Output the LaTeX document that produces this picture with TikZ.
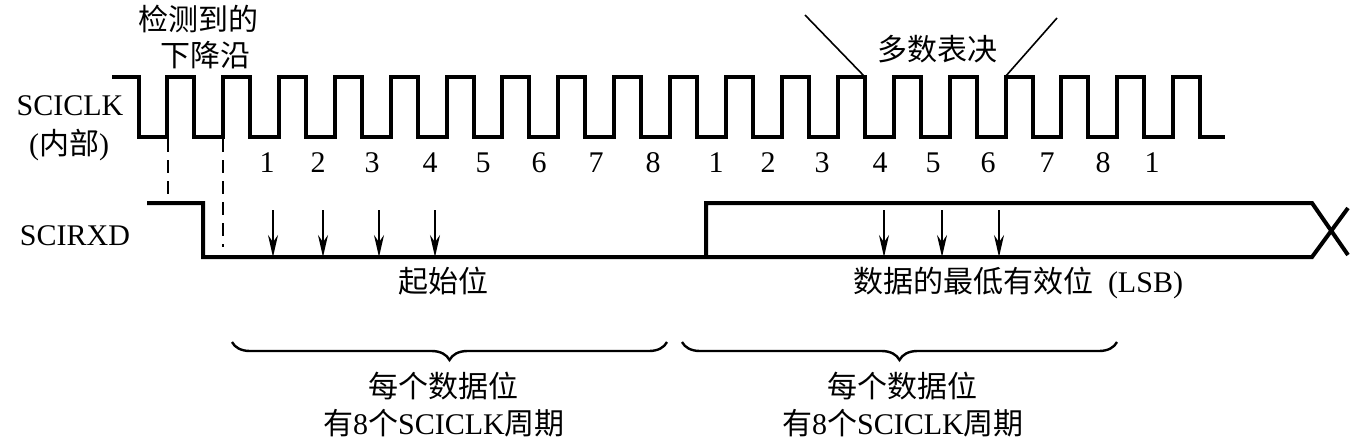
\documentclass[tikz,border=0pt]{standalone}
\usepackage{fontspec}
\setmainfont{Liberation Serif}
\newfontfamily\cjk{Noto Sans CJK SC}
\usetikzlibrary{arrows.meta,decorations.pathreplacing}
\begin{document}
\begin{tikzpicture}[x=1pt,y=-1pt,
  lbl/.style={inner sep=0pt,anchor=base,font=\fontsize{30pt}{36pt}\selectfont},
  sig/.style={line width=4pt,line join=miter},
  dsh/.style={line width=2.5pt,dash pattern=on 13pt off 8pt},
  samp/.style={line width=1.8pt,-{Stealth[length=22pt,width=10pt]}},
  thin/.style={line width=1.6pt},
  brc/.style={line width=2.4pt,decorate,decoration={brace,mirror,amplitude=18pt}}]
\useasboundingbox (0,0) rectangle (1360,440);

% labels
\node[lbl] (det1) at (198,30) {\cjk 检测到的};
\node[lbl] (det2) at (205,66) {\cjk 下降沿};
\node[lbl] (clk1) at (70,115) {SCICLK};
\node[lbl] (clk2) at (69,154) {({\cjk 内部})};
\node[lbl] (rxd) at (75,245) {SCIRXD};
\node[lbl] (maj) at (937,60) {\cjk 多数表决};
\node[lbl] (start) at (443,292) {\cjk 起始位};
\node[lbl] (lsb) at (1018,292) {{\cjk 数据的最低有效位}\hspace{0.5em}(LSB)};
\node[lbl] (e1a) at (443,397) {\cjk 每个数据位};
\node[lbl] (e1b) at (444,434) {{\cjk 有}8{\cjk 个}SCICLK{\cjk 周期}};
\node[lbl] (e2a) at (902,397) {\cjk 每个数据位};
\node[lbl] (e2b) at (903,434) {{\cjk 有}8{\cjk 个}SCICLK{\cjk 周期}};

% clock
\draw[sig] (112,77) -- (139,77) -- (139,137)
  \foreach \k in {0,...,18} { -- ({167+55.9*\k},137) -- ({167+55.9*\k},77) -- ({194+55.9*\k},77) -- ({194+55.9*\k},137) }
  -- (1225,137);

% clock numbers
\foreach \x/\t [count=\i] in {267/1,318/2,372/3,430/4,483/5,539/6,596/7,653/8,716/1,768/2,822/3,880/4,933/5,988/6,1047/7,1103/8,1152/1}
  \node[lbl] (num\i) at (\x,172) {\t};

% majority vote pointers
\coordinate (m1) at (805,15);
\coordinate (m1e) at (865,77);
\coordinate (m2) at (1057,18);
\coordinate (m2e) at (1005,77);
\draw[thin] (m1) -- (m1e);
\draw[thin] (m2e) -- (m2);

% dashed lines
\draw[dsh] (168,139) -- (168,203);
\draw[dsh] (223,139) -- (223,247);

% SCIRXD
\draw[sig] (147,203) -- (203,203) -- (203,257) -- (1312,257) -- (1348,208);
\draw[sig] (706,257) -- (706,203) -- (1312,203) -- (1348,255);

% sample arrows
\foreach \x in {273,323,379,435,884,942,999}
  \draw[samp] (\x,210) -- (\x,257);

% braces
\coordinate (b1s) at (232,342);
\coordinate (b1e) at (667,342);
\coordinate (b2s) at (682,342);
\coordinate (b2e) at (1117,342);
\draw[brc] (b1s) -- (b1e);
\draw[brc] (b2s) -- (b2e);
\end{tikzpicture}
\end{document}
